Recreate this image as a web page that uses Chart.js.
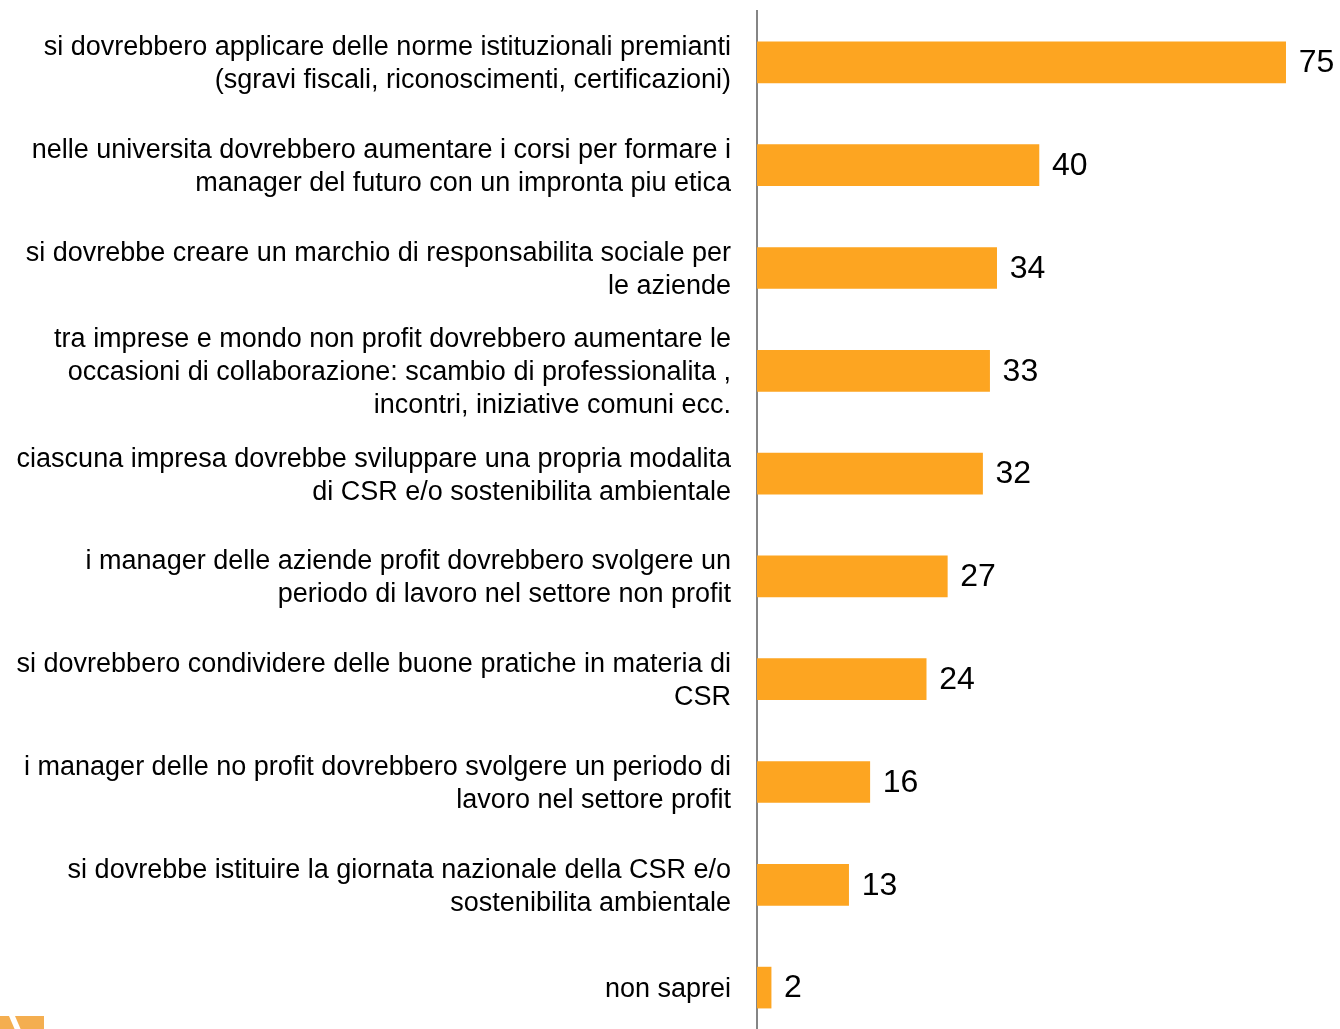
<!DOCTYPE html>
<html lang="it">
<head>
<meta charset="utf-8">
<title>Proposte CSR</title>
<script src="https://cdn.jsdelivr.net/npm/chart.js@4/dist/chart.umd.min.js"></script>
<style>
  html, body { margin: 0; padding: 0; background: #fff; overflow: hidden; }
  #wrap { position: relative; width: 1340px; height: 1029px; overflow: hidden; }
  #chart { display: block; }
</style>
</head>
<body>
<div id="wrap">
  <canvas id="chart" width="1340" height="1040"></canvas>
</div>
<script>
// etichette (righe già spezzate come nell'originale)
const categorie = [
  ["si dovrebbero applicare delle norme istituzionali premianti", "(sgravi fiscali, riconoscimenti, certificazioni)"],
  ["nelle universita dovrebbero aumentare i corsi per formare i", "manager del futuro con un impronta piu etica"],
  ["si dovrebbe creare un marchio di responsabilita sociale per", "le aziende"],
  ["tra imprese e mondo non profit dovrebbero aumentare le", "occasioni di collaborazione: scambio di professionalita ,", "incontri, iniziative comuni ecc."],
  ["ciascuna impresa dovrebbe sviluppare una propria modalita", "di CSR e/o sostenibilita ambientale"],
  ["i manager delle aziende profit dovrebbero svolgere un", "periodo di lavoro nel settore non profit"],
  ["si dovrebbero condividere delle buone pratiche in materia di", "CSR"],
  ["i manager delle no profit dovrebbero svolgere un periodo di", "lavoro nel settore profit"],
  ["si dovrebbe istituire la giornata nazionale della CSR e/o", "sostenibilita ambientale"],
  ["non saprei"]
];
const valori = [75, 40, 34, 33, 32, 27, 24, 16, 13, 2];

const ARANCIO = "#FDA521";
const FONT = "'Liberation Sans', Arial, sans-serif";

// numeri a destra delle barre
const valueLabels = {
  id: "valueLabels",
  afterDatasetsDraw(chart) {
    const ctx = chart.ctx;
    const meta = chart.getDatasetMeta(0);
    ctx.save();
    ctx.font = "32px " + FONT;
    ctx.fillStyle = "#000";
    ctx.textAlign = "left";
    ctx.textBaseline = "middle";
    meta.data.forEach((bar, i) => {
      ctx.fillText(String(valori[i]), bar.x + 13, bar.y + 1);
    });
    ctx.restore();
  }
};

// frammento di logo in basso a sinistra
const logo = {
  id: "logo",
  afterDraw(chart) {
    const ctx = chart.ctx;
    ctx.save();
    ctx.fillStyle = "#F4AE50";
    ctx.fillRect(0, 1016, 44, 14);
    ctx.fillStyle = "#fff";
    ctx.beginPath();
    ctx.moveTo(9, 1016);
    ctx.lineTo(15, 1016);
    ctx.lineTo(21, 1030);
    ctx.lineTo(15, 1030);
    ctx.closePath();
    ctx.fill();
    ctx.restore();
  }
};

const canvas = document.getElementById("chart");

new Chart(canvas, {
  type: "bar",
  data: {
    labels: categorie,
    datasets: [{
      data: valori,
      backgroundColor: ARANCIO,
      borderWidth: 0,
      barThickness: 41
    }]
  },
  options: {
    indexAxis: "y",
    responsive: false,
    animation: false,
    layout: { autoPadding: false, padding: { top: 11, bottom: 1, right: 5, left: 0 } },
    plugins: {
      legend: { display: false },
      tooltip: { enabled: false }
    },
    scales: {
      x: {
        display: false,
        min: 0,
        max: 82
      },
      y: {
        afterFit: (scale) => {
          scale.width = 757;
          scale.paddingTop = 0;
          scale.paddingBottom = 0;
        },
        grid: { display: false, drawTicks: false },
        border: { display: true, color: "#858585", width: 2 },
        ticks: {
          color: "#000",
          padding: 26,
          labelOffset: 2,
          font: { family: FONT, size: 27, lineHeight: 1.22 }
        }
      }
    }
  },
  plugins: [valueLabels, logo]
});
</script>
</body>
</html>
